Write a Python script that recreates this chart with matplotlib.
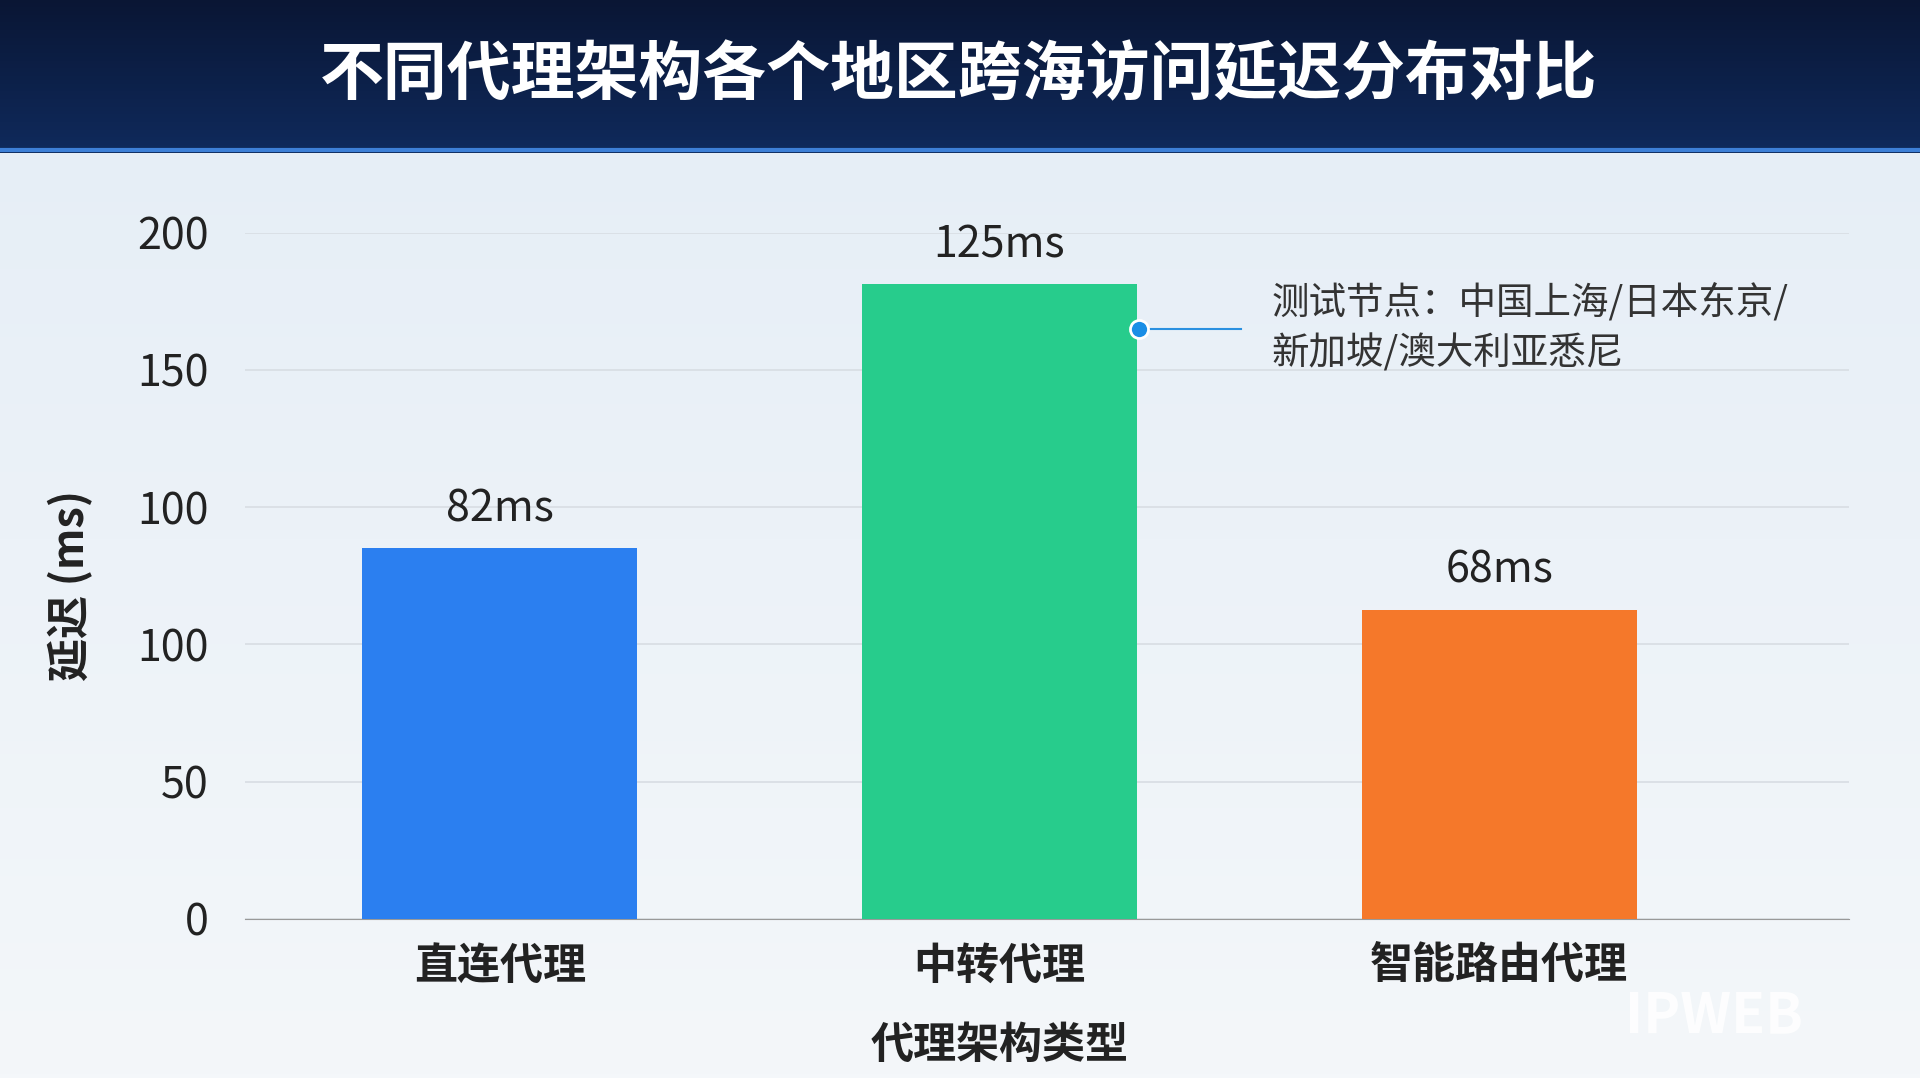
import matplotlib
matplotlib.use("Agg")
import matplotlib.pyplot as plt
import numpy as np
from matplotlib.colors import LinearSegmentedColormap

plt.rcParams['font.family'] = ['Noto Sans CJK SC', 'DejaVu Sans']

title = "不同代理架构各个地区跨海访问延迟分布对比"
categories = ["直连代理", "中转代理", "智能路由代理"]
bar_heights = [108, 185, 90]
bar_labels = ["82ms", "125ms", "68ms"]
colors = ["#2b7ff0", "#27cc8c", "#f5782a"]
tick_pos = [0, 40, 80, 120, 160, 200]
tick_labels = ["0", "50", "100", "100", "150", "200"]
ylabel = "延迟 (ms)"
xlabel = "代理架构类型"
note = "测试节点：中国上海/日本东京/\n新加坡/澳大利亚悉尼"

W, H = 1568, 880
fig = plt.figure(figsize=(19.2, 10.78), dpi=100)
fig.patch.set_facecolor("#eef3f8")

bg = fig.add_axes([0, 0, 1, 1], zorder=-10)
grad = np.linspace(0, 1, 256).reshape(-1, 1)
cm = LinearSegmentedColormap.from_list("bg", ["#e4edf6", "#f4f7fa"])
bg.imshow(grad, cmap=cm, aspect="auto", extent=[0, 1, 0, 1])
bg.axis("off")

hd = fig.add_axes([0, 1 - 125 / H, 1, 125 / H], zorder=-5)
hg = np.linspace(0, 1, 256).reshape(-1, 1)
cmh = LinearSegmentedColormap.from_list("hd", ["#0a1634", "#0f2a5c"])
hd.imshow(hg, cmap=cmh, aspect="auto", extent=[0, 1, 0, 1])
hd.axhline(0.02, color="#3d7fd6", lw=3)
hd.axis("off")
fig.text(783 / W, 1 - 62 / H, title, ha="center", va="center", color="white",
         fontsize=46, fontweight="bold")

ax = fig.add_axes([200 / W, 1 - 750 / H, 1310 / W, 560 / H])
ax.set_facecolor("none")
x = np.arange(len(categories))
ax.bar(x, bar_heights, width=0.55, color=colors, zorder=3)
for xi, h, lab in zip(x, bar_heights, bar_labels):
    ax.text(xi, h + 5, lab, ha="center", va="bottom", fontsize=31,
            fontweight="medium", color="#222")
ax.set_xlim(-0.51, 2.70)
ax.set_ylim(0, 200)
ax.set_yticks(tick_pos)
ax.set_yticklabels(tick_labels, fontsize=31, fontweight="medium", color="#222")
ax.set_xticks(x)
ax.set_xticklabels(categories, fontsize=31, color="#222", fontweight="bold")
ax.tick_params(axis="y", length=0, pad=26)
ax.tick_params(axis="x", length=0, pad=18)
ax.grid(axis="y", color="#d8dde3", lw=1.2, zorder=0)
for s in ["top", "right", "left"]:
    ax.spines[s].set_visible(False)
ax.spines["bottom"].set_color("#999")
fig.text(58 / W, 1 - 478 / H, ylabel, rotation=90, ha="center", va="center",
         fontsize=31, fontweight="bold", color="#222")
fig.text(816 / W, 1 - 853 / H, xlabel, ha="center", va="center",
         fontsize=31, fontweight="bold", color="#222")

ax.plot([1.279, 1.483], [172, 172], color="#2a90e0", lw=1.5, zorder=4, clip_on=False)
ax.plot([1.279], [172], "o", color="#1a8ee6", ms=13, mec="white", mew=2, zorder=5, clip_on=False)
ax.text(1.544, 172, note, ha="left", va="center", fontsize=27, color="#333", linespacing=1.4)

fig.text(1400 / W, 1 - 830 / H, "IPWEB", ha="center", va="center", fontsize=40,
         color="white", alpha=0.85, fontweight="bold")

fig.savefig("out.png", dpi=100)
